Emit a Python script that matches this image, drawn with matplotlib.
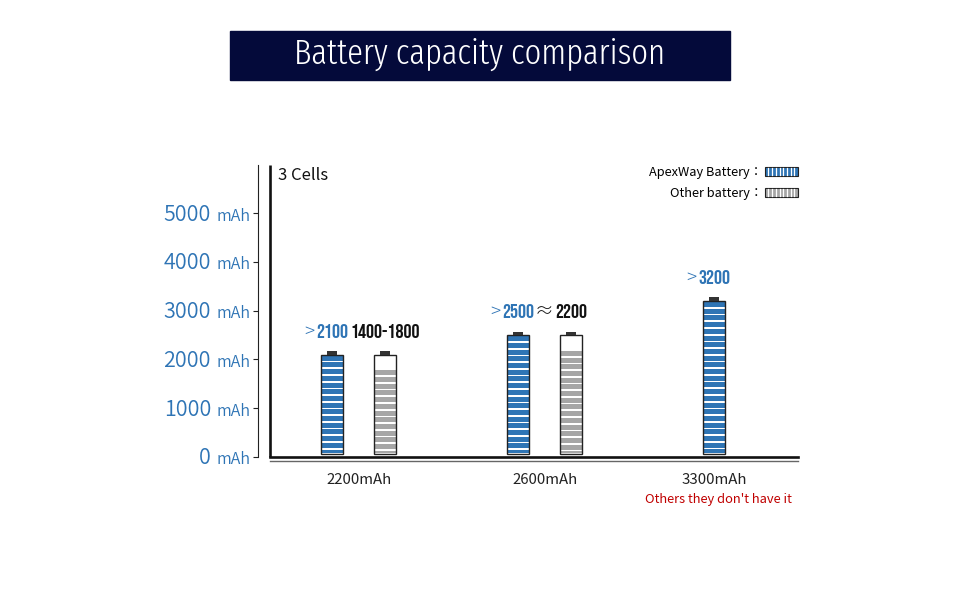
import matplotlib
matplotlib.use('Agg')
import matplotlib.pyplot as plt
import numpy as np
from matplotlib.patches import Rectangle, Patch
from matplotlib.lines import Line2D
from matplotlib.legend_handler import HandlerBase

# data
categories = ['2200mAh', '2600mAh', '3300mAh']
apex_mah = [2100, 2500, 3200]              # ApexWay battery capacity
other_mah = [1800, 2200, None]             # other battery (filled level)
apex_text = ['>2100', '>2500', '>3200']
other_text = ['1400-1800', '≈2200', None]
yticks = [0, 1000, 2000, 3000, 4000, 5000]
note = "Others they don't have it"

# layout
group_x = [0, 1, 1.91]
bar_w = 0.118
off = 0.1425
blue = '#2f75b5'
gray = '#a6a6a6'
label_blue = '#2e74b5'
cjk = ['Noto Sans CJK JP', 'DejaVu Sans']
cond = ['Bebas Neue', 'Oswald', 'DejaVu Sans']

fig = plt.figure(figsize=(9.6, 6), dpi=100)

# title box
fig.patches.append(Rectangle((230/960, 1 - 80/600), 500/960, 49/600,
                             transform=fig.transFigure, color='#040a3a', zorder=0))
fig.text(480/960, 1 - 54/600, 'Battery capacity comparison', ha='center', va='center',
         color='white', fontsize=25.5, family=['Fira Sans Extra Condensed'] + cjk, weight=300)

ax = fig.add_axes([270/960, 143/600, 528/960, 292/600])
ax.set_xlim(-0.4772, 2.3616)
ax.set_ylim(0, 5984)

px_y = 1000 / 48.8   # mAh per pixel
base = 3 * px_y      # bars stand a little above the baseline
period = 6.7 * px_y
stripe_h = 5.0 * px_y
cap_h = 3.5 * px_y


def battery(x, top, fill, color):
    # stripes
    tops = np.arange(fill - 1.2 * px_y, base + px_y, -period)
    h = np.minimum(stripe_h, tops - base - px_y)
    ax.bar([x] * len(tops), h, bottom=tops - h, width=bar_w * 0.96, color=color, zorder=2)
    # shell and cap
    ax.bar(x, top - base, bottom=base, width=bar_w, facecolor='none',
           edgecolor='#222222', linewidth=1.0, zorder=3)
    ax.bar(x, cap_h, bottom=top, width=bar_w * 0.45, color='#333333', zorder=3)


def value_label(x, top, text, color):
    prefix = text[0] if not text[0].isdigit() else ''
    num = text[len(prefix):]
    t = ax.annotate(num, xy=(x, top), xytext=(0, 17), textcoords='offset pixels',
                    ha='center', va='baseline', color=color, fontsize=14.5, family=cond)
    if prefix:
        ax.annotate(prefix, xy=(0, 0.42), xycoords=t, xytext=(-1.5, 0), textcoords='offset pixels',
                    ha='right', va='center', color=color, fontsize=13.5, family=cjk, weight=300)


for i, gx in enumerate(group_x):
    if other_mah[i] is None:
        battery(gx, apex_mah[i], apex_mah[i], blue)
        value_label(gx, apex_mah[i], apex_text[i], label_blue)
    else:
        battery(gx - off, apex_mah[i], apex_mah[i], blue)
        value_label(gx - off, apex_mah[i], apex_text[i], label_blue)
        battery(gx + off, apex_mah[i], other_mah[i], gray)
        value_label(gx + off, apex_mah[i], other_text[i], '#111111')

# axes lines
for s in ['top', 'right']:
    ax.spines[s].set_visible(False)
ax.spines['bottom'].set_linewidth(1.9)
ax.spines['bottom'].set_color('#111111')
ax.spines['left'].set_position(('outward', 9))
ax.spines['left'].set_linewidth(0.8)
ax.spines['left'].set_color('#222222')
ax.plot([0, 0], [0, 1], transform=ax.transAxes, color='#111111', lw=1.9,
        clip_on=False, solid_capstyle='butt')
ax.plot([0, 1], [-4/292, -4/292], transform=ax.transAxes, color='#666666', lw=1.0,
        clip_on=False)

ax.set_yticks(yticks)
ax.tick_params(axis='y', length=3.6, width=0.8, color='#222222', labelleft=False)
for v in yticks:
    ax.annotate(str(v), xy=(0, v), xycoords=('axes fraction', 'data'), xytext=(-59, -7.5),
                textcoords='offset pixels', ha='right', va='baseline', color=label_blue,
                fontsize=15.5, family=cjk, weight=350)
    ax.annotate('mAh', xy=(0, v), xycoords=('axes fraction', 'data'), xytext=(-20, -7.5),
                textcoords='offset pixels', ha='right', va='baseline', color=label_blue,
                fontsize=11.5, family=cjk, weight=350)

ax.set_xticks(group_x, categories, fontsize=10.8, family=cjk, color='#222222')
ax.tick_params(axis='x', length=0, pad=11.5)
ax.annotate(note, xy=(group_x[2], 0), xycoords=('data', 'axes fraction'), xytext=(4, -46),
            textcoords='offset pixels', ha='center', va='baseline', color='#c00000',
            fontsize=9.3, family=cjk)

ax.text(8/528, 1 - 15/292, '3 Cells', transform=ax.transAxes, ha='left', va='baseline',
        fontsize=12, family=cjk, color='#111111')


# legend with striped swatches
class StripeHandler(HandlerBase):
    def __init__(self, color, n=9):
        super().__init__()
        self.color = color
        self.n = n

    def create_artists(self, legend, orig_handle, xdescent, ydescent, width, height, fontsize, trans):
        x0, y0 = -xdescent, -ydescent
        arts = [Rectangle((x0, y0), width, height, facecolor=self.color, edgecolor='#222222',
                          lw=0.8, transform=trans)]
        for xx in np.linspace(x0, x0 + width, self.n + 1)[1:-1]:
            arts.append(Line2D([xx, xx], [y0 + 1, y0 + height - 1], color='white', lw=0.9,
                               transform=trans))
        return arts


h_apex = Patch(color=blue)
h_other = Patch(color=gray)
ax.legend([h_apex, h_other], ['ApexWay Battery：', 'Other battery：'],
          handler_map={h_apex: StripeHandler(blue), h_other: StripeHandler(gray)},
          loc='upper right', bbox_to_anchor=(1.0, 1 - 1/292), frameon=False, markerfirst=False,
          borderaxespad=0, borderpad=0, handlelength=2.6, handleheight=0.8,
          handletextpad=0.15, labelspacing=0.62, prop={'family': cjk, 'size': 9.2})

fig.savefig('out.png')
